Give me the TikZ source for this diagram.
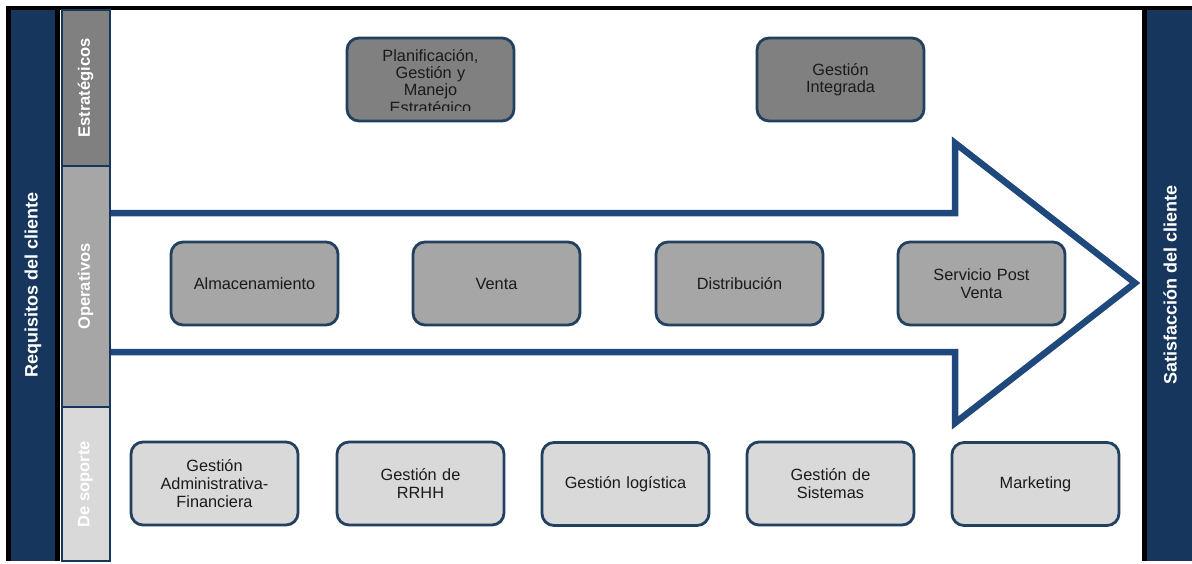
\documentclass[tikz,border=0pt]{standalone}
\usepackage{fontspec}
\setmainfont{Liberation Sans}
\definecolor{navy}{HTML}{17365D}
\definecolor{arrowc}{HTML}{1F497D}
\definecolor{boxline}{HTML}{22405F}
\definecolor{gdark}{HTML}{808080}
\definecolor{gmid}{HTML}{A6A6A6}
\definecolor{glight}{HTML}{D9D9D9}
\definecolor{txt}{HTML}{1A1A1A}
\begin{document}
\begin{tikzpicture}[x=1pt,y=-1pt,
  procbox/.style={draw=boxline, line width=2.8pt, rounded corners=12pt,
    minimum width=167pt, minimum height=83pt, inner sep=0pt,
    text width=155pt, align=center, text=txt,
    font=\fontsize{16.3}{17.6}\selectfont},
  stripcell/.style={draw=navy, line width=2pt, minimum width=48pt, inner sep=0pt},
  sidelabel/.style={text=white, rotate=90, font=\fontsize{18}{20}\selectfont\bfseries},
  striplabel/.style={text=white, rotate=90, font=\fontsize{16.5}{18}\selectfont\bfseries},
  bigarrow/.style={draw=arrowc, line width=6.5pt, line join=miter, miter limit=10}
]
\useasboundingbox (0,0) rectangle (1192,563);
% frame
\fill[black] (6,6) rectangle (1192,561);
\fill[white] (60,10) rectangle (1142,561);
\fill[navy] (11,10) rectangle (55,561);
\fill[navy] (1147,10) rectangle (1192,561);
\node[sidelabel] (req) at (33,285) {Requisitos del cliente};
\node[sidelabel] (sat) at (1170,285) {Satisfacción del cliente};
% big arrow
\draw[bigarrow] (110,213) -- (955,213) -- (955,143) -- (1135,283) -- (955,423) -- (955,352) -- (110,352);
% strip
\node[stripcell, fill=gdark, minimum height=156pt] (s1) at (85.5,88) {};
\node[stripcell, fill=gmid, minimum height=241pt] (s2) at (85.5,286.5) {};
\node[stripcell, fill=glight, minimum height=154pt] (s3) at (85.5,484) {};
\node[striplabel] at (s1) {Estratégicos};
\node[striplabel] at (s2) {Operativos};
\node[striplabel] at (s3) {De soporte};
% strategic
\node[procbox, fill=gdark] (plan) at (430.5,79.5) {};
\begin{scope}
  \clip (346,37) rectangle (515,110);
  \node[text width=155pt, align=center, text=txt, inner sep=0pt,
        font=\fontsize{16.3}{17.3}\selectfont] (plantext) at (430.5,83)
        {Planificación,\\Gestión y\\Manejo\\Estratégico};
\end{scope}
\node[procbox, fill=gdark] (integ) at (840.5,79.5) {Gestión\\Integrada};
% operative
\node[procbox, fill=gmid] (alm) at (254.5,283.5) {Almacenamiento};
\node[procbox, fill=gmid] (ven) at (496.5,283.5) {Venta};
\node[procbox, fill=gmid] (dis) at (739.5,283.5) {Distribución};
\node[procbox, fill=gmid] (ser) at (981.5,283.5) {Servicio Post\\Venta};
% support
\node[procbox, fill=glight] (adm) at (214.5,483.5) {Gestión\\Administrativa-\\Financiera};
\node[procbox, fill=glight] (rrhh) at (420.5,483.5) {Gestión de\\RRHH};
\node[procbox, fill=glight] (log) at (625.5,484) {Gestión logística};
\node[procbox, fill=glight] (sis) at (830.5,483.5) {Gestión de\\Sistemas};
\node[procbox, fill=glight] (mkt) at (1035.5,484) {Marketing};
\end{tikzpicture}
\end{document}
